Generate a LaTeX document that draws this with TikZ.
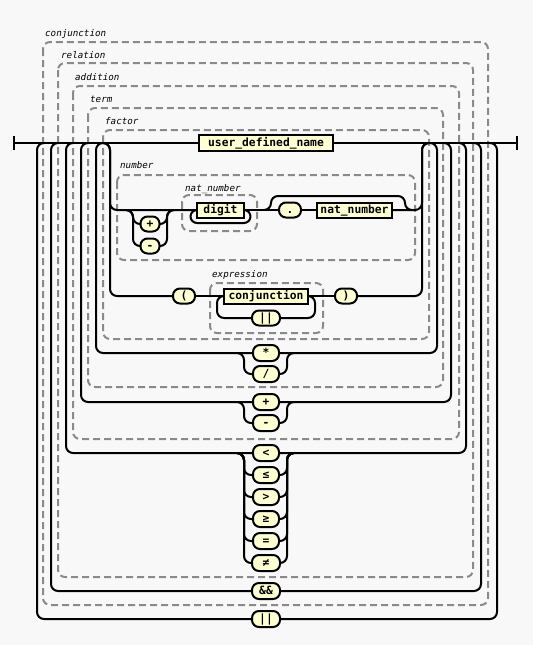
\documentclass[tikz,border=0pt]{standalone}
\usepackage{fontspec}
\newfontfamily\rrmono{DejaVu Sans Mono}
\definecolor{bgcol}{HTML}{F8F8F8}
\definecolor{boxfill}{HTML}{FFFFD4}
\definecolor{grpcol}{HTML}{8A8A8A}
\pgfdeclarelayer{canvas}
\pgfdeclarelayer{groups}
\pgfdeclarelayer{rails}
\pgfsetlayers{canvas,groups,rails,main}
\begin{document}
\begin{tikzpicture}[x=1pt,y=-1pt,
  rail/.style={line width=2pt, rounded corners=7pt, line join=round},
  grp/.style={draw=grpcol, line width=2pt, dash pattern=on 7pt off 4pt, rounded corners=7pt},
  glabel/.style={anchor=west, inner sep=0pt, font=\rrmono\itshape\fontsize{9.2pt}{9.2pt}\selectfont, text height=6.5pt, text depth=2pt},
  boxbase/.style={draw, line width=2pt, fill=boxfill, inner sep=0pt, minimum height=16pt,
    font=\rrmono\bfseries\fontsize{11.3pt}{11.3pt}\selectfont, text height=9pt, text depth=2pt},
  ntbox/.style={boxbase},
  tbox/.style={boxbase, rounded corners=7pt},
  small/.style={minimum height=15pt},
]
% canvas
\begin{pgfonlayer}{canvas}
  \fill[bgcol] (0,0) rectangle (533,645);
\end{pgfonlayer}
\useasboundingbox (0,0) rectangle (533,645);

% ---------- terminals and nonterminals ----------
\node[ntbox, minimum width=134pt] (udn) at (266,143) {user\_defined\_name};

\node[tbox, small, minimum width=19pt] (sgnp) at (150,224) {+};
\node[tbox, small, minimum width=19pt] (sgnm) at (150,246) {-};
\node[ntbox, small, minimum width=47pt] (digit) at (220.5,210) {digit};
\node[tbox, small, minimum width=22pt] (dot) at (290,210) {.};
\node[ntbox, small, minimum width=75pt] (natnum) at (354.5,210) {nat\_number};

\node[tbox, small, minimum width=22pt] (lpar) at (184,296) {(};
\node[ntbox, small, minimum width=84pt] (conj) at (266,296) {conjunction};
\node[tbox, small, minimum width=28pt] (exor) at (266,318) {||};
\node[tbox, small, minimum width=22pt] (rpar) at (346,296) {)};

\node[tbox, minimum width=26pt] (mul) at (266,353) {*};
\node[tbox, minimum width=26pt] (div) at (266,374) {/};
\node[tbox, minimum width=26pt] (add) at (266,402) {+};
\node[tbox, minimum width=26pt] (sub) at (266,423) {-};
\node[tbox, minimum width=26pt] (lt) at (266,453) {<};
\node[tbox, minimum width=26pt] (le) at (266,475) {≤};
\node[tbox, minimum width=26pt] (gt) at (266,497) {>};
\node[tbox, minimum width=26pt] (ge) at (266,519) {≥};
\node[tbox, minimum width=26pt] (eq) at (266,541) {=};
\node[tbox, minimum width=28pt] (ne) at (266,563) {≠};
\node[tbox, minimum width=28pt] (andand) at (266,591) {\&\&};
\node[tbox, minimum width=28pt] (oror) at (266,619) {||};

% ---------- group boxes with their labels ----------
\begin{pgfonlayer}{groups}
  \draw[grp] (43,42) rectangle (488,605);
  \draw[grp] (58,63) rectangle (473,577);
  \draw[grp] (73,86) rectangle (459,439);
  \draw[grp] (88,108) rectangle (443,387);
  \draw[grp] (103,130) rectangle (429,339);
  \draw[grp] (117,175) rectangle (415,260);
  \draw[grp] (182,195) rectangle (257,231);
  \draw[grp] (210,283) rectangle (323,333);
\end{pgfonlayer}
\node[glabel] (lconj) at (45,34) {conjunction};
\node[glabel] (lrel) at (61,56) {relation};
\node[glabel] (ladd) at (75,78) {addition};
\node[glabel] (lterm) at (90,100) {term};
\node[glabel] (lfac) at (105,122) {factor};
\node[glabel] (lnum) at (120,166) {number};
\node[glabel] (lnat) at (185,189) {nat\_number};
\node[glabel] (lexpr) at (212,275) {expression};

% ---------- rails ----------
\coordinate (startbar) at (14,143);
\coordinate (endbar) at (517,143);
\begin{pgfonlayer}{rails}
  % main line with its end bars
  \draw[rail] (startbar) -- (udn.west);
  \draw[rail] (udn.east) -- (endbar);
  \draw[rail] (startbar) ++(0,-7) -- ++(0,14);
  \draw[rail] (endbar) ++(0,-7) -- ++(0,14);

  % repetition with ||
  \draw[rail] (44,143) -- (37,143) -- (37,619) -- (oror.west);
  \draw[rail] (oror.east) -- (497,619) -- (497,143) -- (490,143);
  % repetition with &&
  \draw[rail] (58,143) -- (51,143) -- (51,591) -- (andand.west);
  \draw[rail] (andand.east) -- (481,591) -- (481,143) -- (474,143);
  % relation operators
  \draw[rail] (73,143) -- (66,143) -- (66,453) -- (lt.west);
  \draw[rail] (lt.east) -- (466,453) -- (466,143) -- (459,143);
  \foreach \op/\yy in {le/475, gt/497, ge/519, eq/541, ne/563} {
    \draw[rail] (237,453) -- (244,453) -- (244,\yy) -- (\op.west);
    \draw[rail] (\op.east) -- (287,\yy) -- (287,453) -- (294,453);
  }
  % additive operators
  \draw[rail] (88,143) -- (81,143) -- (81,402) -- (add.west);
  \draw[rail] (add.east) -- (451,402) -- (451,143) -- (444,143);
  \draw[rail] (237,402) -- (244,402) -- (244,423) -- (sub.west);
  \draw[rail] (sub.east) -- (287,423) -- (287,402) -- (294,402);
  % multiplicative operators
  \draw[rail] (103,143) -- (96,143) -- (96,353) -- (mul.west);
  \draw[rail] (mul.east) -- (437,353) -- (437,143) -- (430,143);
  \draw[rail] (237,353) -- (244,353) -- (244,374) -- (div.west);
  \draw[rail] (div.east) -- (287,374) -- (287,353) -- (294,353);

  % factor: number branch
  \draw[rail] (103,143) -- (110,143) -- (110,210) -- (digit.west);
  \draw[rail] (digit.east) -- (dot.west);
  \draw[rail] (dot.east) -- (natnum.west);
  \draw[rail] (natnum.east) -- (422,210) -- (422,143) -- (429,143);
  % optional sign
  \draw[rail] (126,210) -- (133,210) -- (133,224) -- (sgnp.west);
  \draw[rail] (sgnp.east) -- (167,224) -- (167,210) -- (174,210);
  \draw[rail] (126,210) -- (133,210) -- (133,246) -- (sgnm.west);
  \draw[rail] (sgnm.east) -- (167,246) -- (167,210) -- (174,210);
  % repeated digit
  \draw[rail, rounded corners=6.5pt] (digit.west) -- (190.5,210) -- (190.5,223) -- (250.5,223) -- (250.5,210) -- (digit.east);
  % optional fraction: bypass above
  \draw[rail] (264,210) -- (271,210) -- (271,196) -- (405,196) -- (405,210) -- (412,210);

  % factor: parenthesised branch
  \draw[rail] (103,143) -- (110,143) -- (110,296) -- (lpar.west);
  \draw[rail] (lpar.east) -- (conj.west);
  \draw[rail] (conj.east) -- (rpar.west);
  \draw[rail] (rpar.east) -- (422,296) -- (422,143) -- (429,143);
  % expression: repetition with ||
  \draw[rail] (conj.west) -- (217,296) -- (217,318) -- (exor.west);
  \draw[rail] (exor.east) -- (315,318) -- (315,296) -- (conj.east);
\end{pgfonlayer}
\end{tikzpicture}
\end{document}
